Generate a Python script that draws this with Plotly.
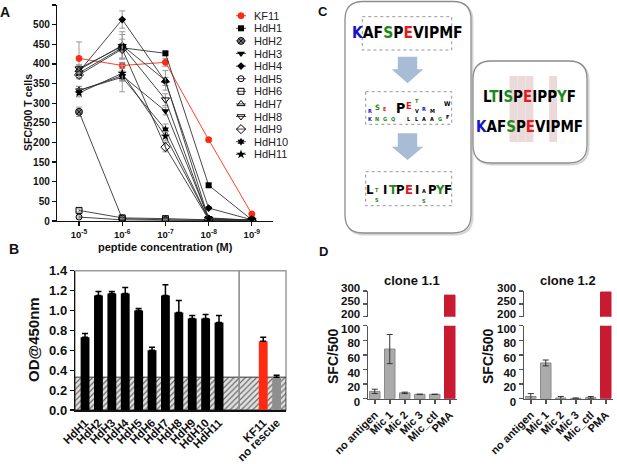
import plotly.graph_objects as go

W, H = 617, 464
FONT = "Liberation Sans, Arial, Helvetica, sans-serif"
NARROW = "Liberation Sans Narrow, Arial Narrow, DejaVu Sans Condensed, Liberation Sans, sans-serif"

# ---------------- Panel A data ----------------
conc_exponents = [5, 6, 7, 8, 9]
conc_tick_labels = ["10<sup>-5</sup>", "10<sup>-6</sup>", "10<sup>-7</sup>", "10<sup>-8</sup>", "10<sup>-9</sup>"]
peptide_names = ["KF11", "HdH1", "HdH2", "HdH3", "HdH4", "HdH5", "HdH6",
                 "HdH7", "HdH8", "HdH9", "HdH10", "HdH11"]
sfc_KF11 = [414, 396, 404, 207, 18]
sfc_HdH1 = [377, 441, 427, 91, 3]
sfc_HdH2 = [278, 6, 3, 2, 1]
sfc_HdH3 = [332, 370, 280, 8, 2]
sfc_HdH4 = [380, 513, 355, 33, 3]
sfc_HdH5 = [10, 3, 2, 1, 1]
sfc_HdH6 = [27, 8, 6, 3, 2]
sfc_HdH7 = [385, 447, 358, 6, 2]
sfc_HdH8 = [388, 445, 309, 5, 2]
sfc_HdH9 = [372, 438, 188, 4, 2]
sfc_HdH10 = [333, 366, 233, 5, 2]
sfc_HdH11 = [326, 376, 216, 5, 2]
err_KF11 = [42, 8, 10, 5, 2]
err_HdH1 = [12, 10, 5, 4, 1]
err_HdH2 = [12, 2, 1, 1, 0]
err_HdH3 = [10, 12, 10, 2, 1]
err_HdH4 = [15, 22, 10, 4, 1]
err_HdH5 = [3, 1, 1, 0, 0]
err_HdH6 = [4, 2, 1, 1, 0]
err_HdH7 = [10, 35, 25, 2, 1]
err_HdH8 = [10, 30, 15, 2, 1]
err_HdH9 = [10, 25, 12, 1, 1]
err_HdH10 = [10, 37, 14, 2, 1]
err_HdH11 = [10, 20, 12, 2, 1]
sfc_values = [sfc_KF11, sfc_HdH1, sfc_HdH2, sfc_HdH3, sfc_HdH4, sfc_HdH5, sfc_HdH6,
              sfc_HdH7, sfc_HdH8, sfc_HdH9, sfc_HdH10, sfc_HdH11]
sfc_errors = [err_KF11, err_HdH1, err_HdH2, err_HdH3, err_HdH4, err_HdH5, err_HdH6,
              err_HdH7, err_HdH8, err_HdH9, err_HdH10, err_HdH11]

# ---------------- Panel B data ----------------
elisa_labels = ["HdH1", "HdH2", "HdH3", "HdH4", "HdH5", "HdH6", "HdH7", "HdH8",
                "HdH9", "HdH10", "HdH11", "KF11", "no rescue"]
od450 = [0.73, 1.15, 1.17, 1.17, 1.00, 0.60, 1.15, 0.98, 0.92, 0.92, 0.88, 0.69, 0.33]
od450_err = [0.04, 0.04, 0.02, 0.06, 0.02, 0.03, 0.11, 0.12, 0.03, 0.04, 0.07, 0.04, 0.02]

# ---------------- Panel D data ----------------
stim_labels = ["no antigen", "Mic 1", "Mic 2", "Mic 3", "Mic_ctl", "PMA"]
clone11_sfc = [10, 68, 8, 6, 6, 284]
clone11_err = [3, 20, 1, 0, 0, 0]
clone12_sfc = [3, 49, 1, 0.5, 1.5, 296]
clone12_err = [4, 4, 2, 0.5, 1.5, 0]

# ---------------- Panel C (sequence logos) ----------------
logo_start = "KAFSPEVIPMF"
logo_mid = [[("K", 8), ("R", 8)], [("N", 8), ("S", 16)], [("G", 8), ("E", 12)],
            [("Q", 8)], [("P", 30)], [("L", 8), ("E", 20)],
            [("L", 8), ("V", 9), ("T", 10)], [("A", 8), ("R", 12)],
            [("A", 8), ("M", 9)], [("G", 8)], [("F", 12), ("W", 14)]]
logo_end = [[("L", 30)], [("S", 9), ("T", 12)], [("I", 30)], [("T", 30)], [("P", 30)],
            [("E", 30)], [("I", 30)], [("S", 8), ("A", 12)], [("P", 30)],
            [("Y", 30)], [("F", 30)]]
align_top = "LTISPEIPPYF"
align_bottom = "KAFSPEVIPMF"
highlight_cols = [3, 4, 5, 8]

# ---------------- styles ----------------
RES_COLORS = {"K": "#1414c8", "R": "#1414c8", "H": "#1414c8",
              "S": "#1b8a1b", "T": "#1b8a1b", "Y": "#1b8a1b", "G": "#1b8a1b",
              "N": "#1b8a1b", "Q": "#1b8a1b", "C": "#1b8a1b",
              "D": "#e41a1a", "E": "#e41a1a"}
RED = "#ff2a12"
marker_styles = {
    "KF11": dict(symbol="circle", color=RED, size=6, line=dict(color=RED, width=1)),
    "HdH1": dict(symbol="square", color="#000", size=6, line=dict(color="#000", width=0)),
    "HdH2": dict(symbol="circle-x", color="#777", size=7, line=dict(color="#111", width=1)),
    "HdH3": dict(symbol="triangle-down", color="#000", size=7, line=dict(color="#000", width=0)),
    "HdH4": dict(symbol="diamond", color="#000", size=6, line=dict(color="#000", width=0)),
    "HdH5": dict(symbol="circle-open", color="#000", size=6, line=dict(color="#000", width=1)),
    "HdH6": dict(symbol="square-open", color="#000", size=6, line=dict(color="#000", width=1)),
    "HdH7": dict(symbol="triangle-up-open", color="#000", size=7, line=dict(color="#000", width=1)),
    "HdH8": dict(symbol="triangle-down-open", color="#000", size=7, line=dict(color="#000", width=1)),
    "HdH9": dict(symbol="diamond-open", color="#000", size=7, line=dict(color="#000", width=1)),
    "HdH10": dict(symbol="hexagram", color="#000", size=6, line=dict(color="#000", width=0)),
    "HdH11": dict(symbol="star", color="#000", size=7, line=dict(color="#000", width=0)),
}


def dx(a, b):
    return [a / W, b / W]


def dy(top, bottom):
    return [1 - bottom / H, 1 - top / H]


def bold(size, color="#111"):
    return dict(family=FONT, size=size, color=color, weight=700)


fig = go.Figure()
annotations = []
shapes = []

# ---------------- Panel A traces ----------------
for name, vals, errs in zip(peptide_names, sfc_values, sfc_errors):
    st = marker_styles[name]
    lc = RED if name == "KF11" else "#333"
    fig.add_trace(go.Scatter(
        x=conc_exponents, y=vals, mode="lines+markers", name=name,
        line=dict(color=lc, width=0.9), marker=st, showlegend=False,
        error_y=dict(type="data", array=errs, color="#9a9a9a", thickness=1, width=3),
        xaxis="x", yaxis="y"))

# compact legend drawn in a pixel overlay axis
leg_x_line0, leg_x_mark, leg_x_line1, leg_x_text = 236, 241, 246, 252
leg_y0, leg_dy = 15.7, 12.6
for i, name in enumerate(peptide_names):
    yy = leg_y0 + i * leg_dy
    lc = RED if name == "KF11" else "#333"
    fig.add_trace(go.Scatter(x=[leg_x_line0, leg_x_line1], y=[yy, yy], mode="lines",
                             line=dict(color=lc, width=0.9), showlegend=False,
                             hoverinfo="skip", xaxis="x7", yaxis="y7"))
    fig.add_trace(go.Scatter(x=[leg_x_mark], y=[yy], mode="markers",
                             marker=marker_styles[name], showlegend=False,
                             hoverinfo="skip", xaxis="x7", yaxis="y7"))
    annotations.append(dict(x=leg_x_text, y=yy, xref="x7", yref="y7", text=name,
                            showarrow=False, xanchor="left", yanchor="middle",
                            font=dict(family=FONT, size=11, color="#222")))

# ---------------- Panel B traces ----------------
b_range = [-0.75, 15.0]
ctrl_gap = 2.3
b_pos = [i if i < 11 else i + ctrl_gap for i in range(len(elisa_labels))]
b_colors = ["#000"] * 11 + [RED, "#8e8e8e"]
baseline = od450[-1]
fig.add_trace(go.Bar(
    x=[(b_range[0] + b_range[1]) / 2], y=[baseline], width=[b_range[1] - b_range[0]],
    base=0, marker=dict(color="#dcdcdc", line=dict(color="#333", width=1),
                        pattern=dict(shape="/", fgcolor="#6a6a6a", bgcolor="#e2e2e2",
                                     size=4, solidity=0.3)),
    showlegend=False, hoverinfo="skip", xaxis="x2", yaxis="y2"))
fig.add_trace(go.Bar(
    x=b_pos, y=od450, width=0.66, marker=dict(color=b_colors, line=dict(width=0)),
    error_y=dict(type="data", symmetric=False, array=od450_err,
                 arrayminus=[0] * len(od450), color="#000", thickness=1.5, width=3),
    showlegend=False, xaxis="x2", yaxis="y2"))

# ---------------- Panel D traces ----------------
d_idx = list(range(len(stim_labels)))
d_fill = ["#ababab" if s != "PMA" else "#c81a30" for s in stim_labels]
d_line = ["#8a8a8a" if s != "PMA" else "#c81a30" for s in stim_labels]
for vals, errs, xb, yb, xt, yt in [(clone11_sfc, clone11_err, "x3", "y3", "x4", "y4"),
                                    (clone12_sfc, clone12_err, "x5", "y5", "x6", "y6")]:
    fig.add_trace(go.Bar(x=d_idx, y=vals, width=0.7,
                         marker=dict(color=d_fill, line=dict(color=d_line, width=1)),
                         error_y=dict(type="data", array=errs, color="#333", thickness=1, width=3),
                         showlegend=False, xaxis=xb, yaxis=yb))
    fig.add_trace(go.Bar(x=d_idx, y=vals, width=0.7,
                         marker=dict(color=d_fill, line=dict(color=d_line, width=1)),
                         showlegend=False, xaxis=xt, yaxis=yt))

# ---------------- Panel C drawing ----------------
def rrect(x0, y0, x1, y1, r):
    return (f"M{x0+r},{y0} L{x1-r},{y0} Q{x1},{y0} {x1},{y0+r} L{x1},{y1-r} "
            f"Q{x1},{y1} {x1-r},{y1} L{x0+r},{y1} Q{x0},{y1} {x0},{y1-r} "
            f"L{x0},{y0+r} Q{x0},{y0} {x0+r},{y0} Z")


def ov_shape(**kw):
    d = dict(xref="x7", yref="y7")
    d.update(kw)
    shapes.append(d)


for (x0, y0, x1, y1) in [(345, 1.5, 471, 233), (473, 61, 587, 163)]:
    ov_shape(type="path", path=rrect(x0 + 1.5, y0 + 1.5, x1 + 1.5, y1 + 1.5, 18),
             line=dict(color="#d4d4d4", width=2), fillcolor="rgba(0,0,0,0)")
    ov_shape(type="path", path=rrect(x0, y0, x1, y1, 18),
             line=dict(color="#8c8c8c", width=1.3), fillcolor="white")

al_x0, al_x1 = 485.7, 573.0
al_w = (al_x1 - al_x0) / len(align_top)
for c in highlight_cols:
    ov_shape(type="rect", x0=al_x0 + c * al_w, x1=al_x0 + (c + 1) * al_w, y0=76, y1=142,
             line=dict(width=0), fillcolor="#ecdada")

for (ya, yb, yc) in [(56.7, 69.3, 83.3), (133.3, 146.7, 160.0)]:
    cx = 407.5
    p = (f"M{cx-9.7},{ya} L{cx+9.7},{ya} L{cx+9.7},{yb} L{cx+15.8},{yb} "
         f"L{cx},{yc} L{cx-15.8},{yb} L{cx-9.7},{yb} Z")
    ov_shape(type="path", path=p, line=dict(width=0), fillcolor="#a9bcd6")

logo_frames = [(362.3, 16.7, 451.7, 50.0), (365.7, 91.7, 451.7, 124.3), (365.7, 171.7, 451.7, 205.7)]
for (x0, y0, x1, y1) in logo_frames:
    ov_shape(type="rect", x0=x0, x1=x1, y0=y0, y1=y1,
             line=dict(color="#777", width=0.8, dash="dot"), fillcolor="rgba(0,0,0,0)")


def colored(seq):
    return "".join(f"<span style='color:{RES_COLORS.get(c, '#000')}'>{c}</span>" for c in seq)


def seq_row(seq, frame, size):
    x0, y0, x1, y1 = frame
    annotations.append(dict(x=(x0 + x1) / 2, y=(y0 + y1) / 2, xref="x7", yref="y7",
                            text=colored(seq), showarrow=False, xanchor="center",
                            yanchor="middle", borderpad=0,
                            font=dict(family=NARROW, size=size, color="#000", weight=700)))


def logo_letters(stacks, frame, full_h, max_font):
    x0, y0, x1, y1 = frame
    colw = (x1 - x0) / len(stacks)
    for i, stack in enumerate(stacks):
        cx = x0 + (i + 0.5) * colw
        cum = 0
        for letter, h in stack:
            size = max(5.5, h / full_h * max_font)
            annotations.append(dict(
                x=cx, y=y1 - 1 - cum - h / 2, xref="x7", yref="y7", text=letter,
                showarrow=False, xanchor="center", yanchor="middle", borderpad=0,
                font=dict(family=NARROW, size=size, color=RES_COLORS.get(letter, "#000"),
                          weight=700)))
            cum += h


seq_row(logo_start, logo_frames[0], 15.5)
logo_letters(logo_mid, logo_frames[1], 30, 14)
logo_letters(logo_end, logo_frames[2], 30, 13)
seq_row(align_top, (al_x0, 83, al_x1, 110), 15)
seq_row(align_bottom, (al_x0, 113, al_x1, 140), 15)

# ---------------- Panel B frame / separator ----------------
shapes.append(dict(type="rect", xref="x2 domain", yref="y2 domain", x0=0, x1=1, y0=0, y1=1,
                   line=dict(color="#9a9a9a", width=1.5), layer="below"))
shapes.append(dict(type="line", xref="x2", yref="y2 domain", x0=11.5, x1=11.5, y0=0, y1=1,
                   line=dict(color="#888", width=1.5)))


def ov_text(x, y, text, font, angle=0, xanchor="center"):
    annotations.append(dict(x=x, y=y, xref="x7", yref="y7", text=text, showarrow=False,
                            xanchor=xanchor, yanchor="middle", textangle=angle, font=font))


ov_text(5, 12, "A", bold(14))
ov_text(14, 249, "B", bold(14))
ov_text(323, 11, "C", bold(13))
ov_text(323, 251, "D", bold(13))
ov_text(28, 113, "SFC/500 T cells", bold(10.5), angle=-90)
ov_text(165.5, 246.5, "peptide concentration (M)", bold(11))
ov_text(33, 340, "OD@450nm", bold(15), angle=-90)
ov_text(333, 357, "SFC/500", bold(14), angle=-90)
ov_text(488, 357, "SFC/500", bold(14), angle=-90)
ov_text(412, 280, "clone 1.1", bold(13))
ov_text(568, 280, "clone 1.2", bold(13))

# ---------------- axes ----------------
axis_common = dict(showgrid=False, zeroline=False, showline=True, linecolor="#111",
                   linewidth=1.2, ticks="outside", tickcolor="#111", ticklen=4, tickwidth=1.2,
                   automargin=False)
d_axis = dict(showgrid=False, zeroline=False, showline=True, linecolor="#555",
              linewidth=1.5, ticks="outside", tickcolor="#555", ticklen=4, tickwidth=1.5,
              automargin=False)
hidden = dict(visible=False, automargin=False, showgrid=False, zeroline=False)

layout = dict(
    template="none",
    width=W, height=H, autosize=False, margin=dict(l=0, r=0, t=0, b=0, pad=0),
    paper_bgcolor="white", plot_bgcolor="rgba(0,0,0,0)", barmode="overlay",
    showlegend=False, font=dict(family=FONT),
    xaxis=dict(domain=dx(57, 273), range=[4.49, 9.49], tickvals=conc_exponents,
               ticktext=conc_tick_labels, tickfont=bold(9.5), anchor="y", **axis_common),
    yaxis=dict(domain=dy(5, 221), range=[0, 550], dtick=50, tickfont=bold(10),
               anchor="x", **axis_common),
    xaxis2=dict(domain=dx(75, 286), range=b_range, tickvals=b_pos, ticktext=elisa_labels,
                tickangle=-45, tickfont=bold(11.5), anchor="y2",
                showgrid=False, zeroline=False, showline=True, linecolor="#111",
                linewidth=1.5, ticks="", automargin=False),
    yaxis2=dict(domain=dy(270.7, 410), range=[0, 1.4], dtick=0.2, tickformat=".1f",
                tickfont=bold(13), anchor="x2", **axis_common),
    xaxis3=dict(domain=dx(368, 456.5), range=[-0.45, 5.45], tickvals=d_idx,
                ticktext=stim_labels, tickangle=-45, tickfont=bold(11), anchor="y3", **d_axis),
    yaxis3=dict(domain=dy(325.7, 398.7), range=[0, 100], dtick=20, tickfont=bold(11.5),
                anchor="x3", ticklabelshift=3, **d_axis),
    xaxis4=dict(domain=dx(368, 456.5), range=[-0.45, 5.45], anchor="y4", **hidden),
    yaxis4=dict(domain=dy(291, 316.7), range=[200, 300], tickvals=[200, 250, 300],
                tickfont=bold(11.5), anchor="x4", ticklabelshift=-3, **d_axis),
    xaxis5=dict(domain=dx(524, 612.5), range=[-0.45, 5.45], tickvals=d_idx,
                ticktext=stim_labels, tickangle=-45, tickfont=bold(11), anchor="y5", **d_axis),
    yaxis5=dict(domain=dy(325.7, 398.7), range=[0, 100], dtick=20, tickfont=bold(11.5),
                anchor="x5", ticklabelshift=3, **d_axis),
    xaxis6=dict(domain=dx(524, 612.5), range=[-0.45, 5.45], anchor="y6", **hidden),
    yaxis6=dict(domain=dy(291, 316.7), range=[200, 300], tickvals=[200, 250, 300],
                tickfont=bold(11.5), anchor="x6", ticklabelshift=-3, **d_axis),
    xaxis7=dict(domain=[0, 1], range=[0, W], anchor="y7", fixedrange=True, **hidden),
    yaxis7=dict(domain=[0, 1], range=[H, 0], anchor="x7", fixedrange=True, **hidden),
    annotations=annotations, shapes=shapes,
)
fig.update_layout(**layout)
fig.write_html("out.html",
               config={"displayModeBar": False, "staticPlot": True},
               post_script="document.body.style.margin='0px';"
                           "document.documentElement.style.overflow='hidden';")
